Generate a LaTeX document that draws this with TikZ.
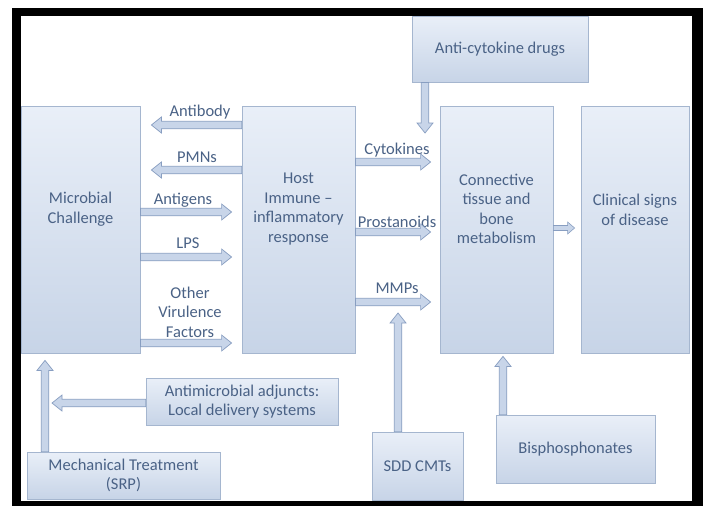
\documentclass[tikz,border=0pt]{standalone}
\usepackage{fontspec}
\setmainfont{Carlito}
\usetikzlibrary{calc}

\definecolor{boxtop}{RGB}{233,239,248}
\definecolor{boxbot}{RGB}{199,212,231}
\definecolor{boxline}{RGB}{165,182,207}
\definecolor{arrfill}{RGB}{200,213,233}
\definecolor{arrline}{RGB}{136,158,193}
\definecolor{ink}{RGB}{74,98,134}

\begin{document}
\begin{tikzpicture}[
  x=1pt, y=-1pt,
  font=\fontsize{16.5}{19.5}\selectfont,
  box/.style={draw=boxline, line width=0.8pt, top color=boxtop, bottom color=boxbot,
              text=ink, align=center, inner sep=0pt},
  txt/.style={text=ink, align=center, inner sep=1pt},
  blk/.style n args={3}{to path={
    ($(\tikztostart)!#1!90:(\tikztotarget)$)
    -- ($(\tikztotarget)!#3!(\tikztostart) + (\tikztostart)!#1!90:(\tikztotarget) - (\tikztostart)$)
    -- ($(\tikztotarget)!#3!(\tikztostart) + (\tikztostart)!#2!90:(\tikztotarget) - (\tikztostart)$)
    -- (\tikztotarget)
    -- ($(\tikztotarget)!#3!(\tikztostart) + (\tikztostart)!#2!-90:(\tikztotarget) - (\tikztostart)$)
    -- ($(\tikztotarget)!#3!(\tikztostart) + (\tikztostart)!#1!-90:(\tikztotarget) - (\tikztostart)$)
    -- ($(\tikztostart)!#1!-90:(\tikztotarget)$) -- cycle}},
  arr/.style={blk={3.75pt}{8pt}{10pt}, draw=arrline, fill=arrfill, line width=0.7pt},
  arrsmall/.style={blk={2.5pt}{6pt}{7pt}, draw=arrline, fill=arrfill, line width=0.6pt}
]
\useasboundingbox (0,0) rectangle (703,506);
\fill[black] (12,8) rectangle (703,506);
\fill[white] (21,16) rectangle (692,501);

% main chain
\node[box, minimum width=119pt, minimum height=247pt] (micro) at (80.5,229.5) {};
\node[box, minimum width=113pt, minimum height=247pt] (host) at (298.5,229.5) {};
\node[box, minimum width=113pt, minimum height=247pt] (conn) at (496.5,229.5) {};
\node[box, minimum width=108pt, minimum height=247pt] (clin) at (635,229.5) {};
\node[txt] (micro-t) at (micro.center |- 0,209) {Microbial\\Challenge};
\node[txt] (host-t) at (host.center |- 0,209) {Host\\Immune --\\inflammatory\\response};
\node[txt] (conn-t) at (conn.center |- 0,209) {Connective\\tissue and\\bone\\metabolism};
\node[txt] (clin-t) at (clin.center |- 0,210) {Clinical signs\\of disease};

% treatments
\node[box, minimum width=176pt, minimum height=66pt] (drugs) at (500,49) {Anti-cytokine drugs};
\node[box, minimum width=192pt, minimum height=47pt] (adj) at (242,401.5) {Antimicrobial adjuncts:\\Local delivery systems};
\node[box, minimum width=193pt, minimum height=47pt] (mech) at (123.5,475.5) {Mechanical Treatment\\(SRP)};
\node[box, minimum width=91pt, minimum height=68pt] (sdd) at (417.5,466) {SDD CMTs};
\node[box, minimum width=159pt, minimum height=68pt] (bisph) at (575.5,449) {Bisphosphonates};

% arrow labels
\node[txt] (l-antibody) at (200,112) {Antibody};
\node[txt] (l-pmn) at (197,157) {PMNs};
\node[txt] (l-antigen) at (183,200) {Antigens};
\node[txt] (l-lps) at (188,243) {LPS};
\node[txt] (l-other) at (190,312) {Other\\Virulence\\Factors};
\node[txt] (l-cyto) at (397,150) {Cytokines};
\node[txt] (l-prost) at (397,222) {Prostanoids};
\node[txt] (l-mmp) at (397,288) {MMPs};

\coordinate (drugs-tip) at (425,133);
\coordinate (sdd-tip) at (398,313);
\coordinate (adj-tip) at (52,403);

% arrows
\draw[arr] (host.west |- 0,125) to ([xshift=11pt]micro.east |- 0,125);
\draw[arr] (host.west |- 0,170) to ([xshift=11pt]micro.east |- 0,170);
\draw[arr] (micro.east |- 0,212) to ([xshift=-10pt]host.west |- 0,212);
\draw[arr] (micro.east |- 0,257) to ([xshift=-10pt]host.west |- 0,257);
\draw[arr] (micro.east |- 0,343) to ([xshift=-10pt]host.west |- 0,343);
\draw[arr] (host.east |- 0,162) to ([xshift=-9pt]conn.west |- 0,162);
\draw[arr] (host.east |- 0,232) to ([xshift=-9pt]conn.west |- 0,232);
\draw[arr] (host.east |- 0,302) to ([xshift=-9pt]conn.west |- 0,302);
\draw[arrsmall] (conn.east |- 0,228) to ([xshift=-6pt]clin.west |- 0,228);
\draw[arr] (drugs.south -| drugs-tip) to (drugs-tip);
\draw[arr] (sdd.north -| sdd-tip) to (sdd-tip);
\draw[arr] (bisph.north -| 503,0) to ([yshift=-3pt]conn.south -| 503,0);
\draw[arr] (mech.north -| 45,0) to ([yshift=-7pt]micro.south -| 45,0);
\draw[arr] (adj.west |- adj-tip) to (adj-tip);
\end{tikzpicture}
\end{document}
